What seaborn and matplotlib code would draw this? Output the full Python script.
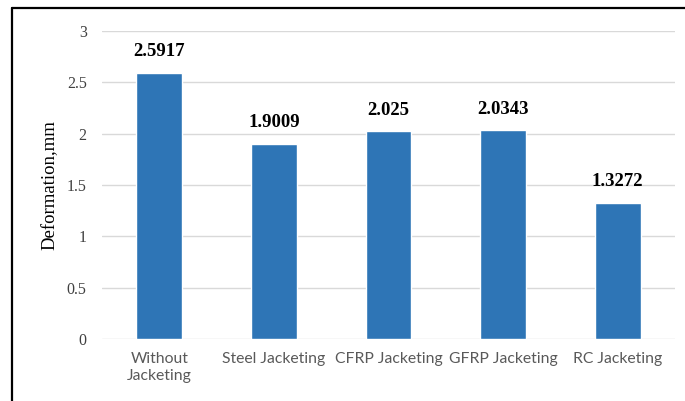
import matplotlib
matplotlib.use("Agg")
import matplotlib.pyplot as plt
import matplotlib.lines as mlines
import seaborn as sns
import pandas as pd

categories = ["Without\nJacketing", "Steel Jacketing", "CFRP Jacketing",
              "GFRP Jacketing", "RC Jacketing"]
deformation = [2.5917, 1.9009, 2.025, 2.0343, 1.3272]
value_labels = ["2.5917", "1.9009", "2.025", "2.0343", "1.3272"]
y_ticks = [0, 0.5, 1, 1.5, 2, 2.5, 3]
y_tick_labels = ["0", "0.5", "1", "1.5", "2", "2.5", "3"]

df = pd.DataFrame({"case": categories, "deformation": deformation})

sns.set_theme(style="white")
fig = plt.figure(figsize=(6.85, 4.01), dpi=100)
ax = fig.add_axes([0.1489, 0.1546, 0.8365, 0.7681])

sns.barplot(data=df, x="case", y="deformation", color="#2E75B6",
            saturation=1, width=0.40, ax=ax)

ax.set_ylim(0, 3)
ax.set_xlim(-0.5, 4.5)
ax.set_yticks(y_ticks)
ax.set_yticklabels(y_tick_labels, fontfamily="Liberation Serif",
                   fontsize=11.5, color="#404040")
ax.yaxis.grid(True, color="#D9D9D9", linewidth=1.0)
ax.set_axisbelow(True)
for s in ax.spines.values():
    s.set_visible(False)
ax.tick_params(axis="y", length=0, pad=11)
ax.tick_params(axis="x", length=0, pad=9)
for lbl in ax.get_xticklabels():
    lbl.set_fontfamily("Lato")
    lbl.set_fontsize(11.3)
    lbl.set_color("#595959")
    lbl.set_linespacing(1.3)

ax.set_xlabel("")
ax.set_ylabel("Deformation,mm", fontfamily="Liberation Serif", fontsize=13.5,
              color="black", labelpad=6)

for i, (v, t) in enumerate(zip(deformation, value_labels)):
    ax.annotate(t, (i, v), xytext=(0, 9), textcoords="offset points",
                ha="center", va="bottom", fontfamily="Liberation Serif",
                fontweight="bold", fontsize=13.5, color="black")

# outer frame (top and left edges)
fig.add_artist(mlines.Line2D([11.5 / 685, 1.0], [1 - 8 / 401, 1 - 8 / 401],
                             transform=fig.transFigure, color="black", linewidth=1.6))
fig.add_artist(mlines.Line2D([12 / 685, 12 / 685], [0, 1 - 8 / 401],
                             transform=fig.transFigure, color="black", linewidth=1.6))

fig.savefig("out.png", dpi=100)
